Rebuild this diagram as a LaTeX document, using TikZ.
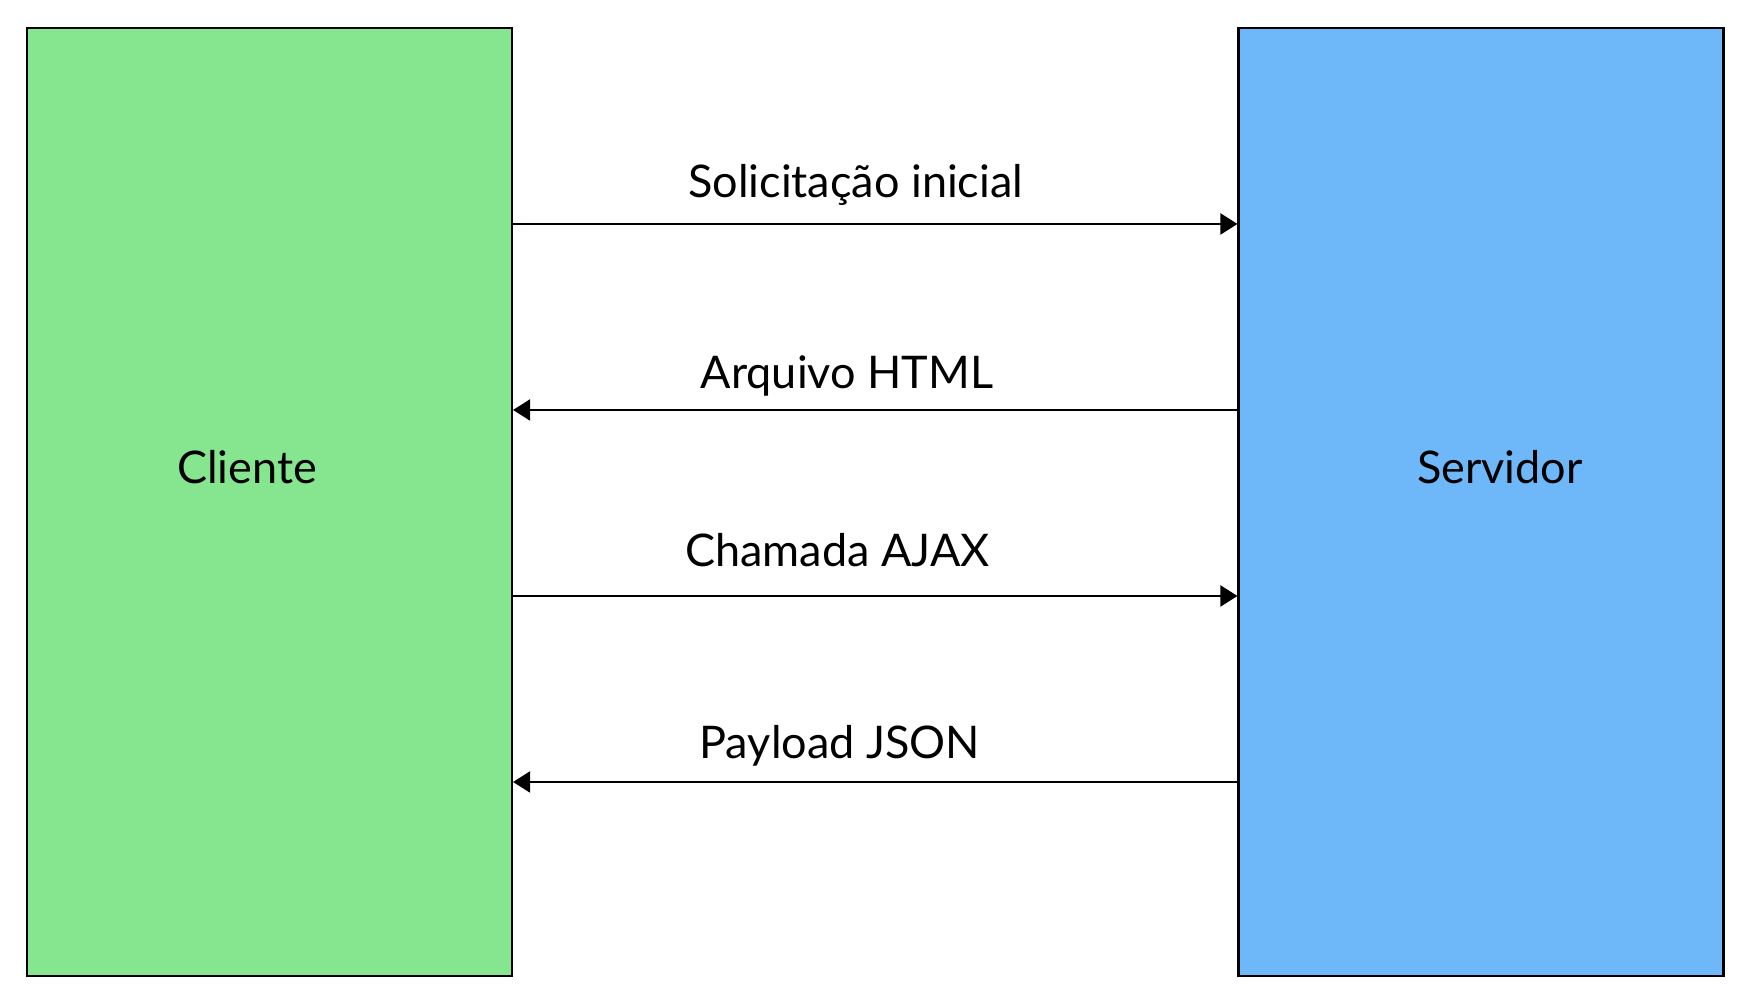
\documentclass[tikz,border=0pt]{standalone}
\usepackage{fontspec}
\setmainfont{Lato}
\usetikzlibrary{arrows.meta}
\definecolor{clientegreen}{RGB}{133,230,143}
\definecolor{servidorblue}{RGB}{110,184,249}
\begin{document}
\begin{tikzpicture}[line width=0.6pt, font=\fontsize{12.8}{15}\selectfont]
\tikzstyle{caixa}=[draw, rectangle, inner sep=0pt, minimum width=4.85cm, minimum height=9.48cm];
\tikzstyle{seta}=[-{Triangle[length=1.7mm,width=2.1mm]}];
\tikzstyle{rotulo}=[anchor=base, inner sep=0pt];
\useasboundingbox (0,0) rectangle (17.55,10.03);
\node [caixa, fill=clientegreen] (cliente) at (2.695,5.01) {};
\node [caixa, fill=servidorblue] (servidor) at (14.81,5.01) {};
\node [rotulo] (clientetxt) at (2.47,5.19) {Cliente};
\node [rotulo] (servidortxt) at (15.00,5.19) {Servidor};
% heights of the messages
\coordinate (m1) at (0,7.79);
\coordinate (m2) at (0,5.93);
\coordinate (m3) at (0,4.07);
\coordinate (m4) at (0,2.21);
\draw [seta] (cliente.east |- m1) -- (servidor.west |- m1)
  node [rotulo, pos=0.473, yshift=0.26cm] (msg1) {Solicitação inicial};
\draw [seta] (servidor.west |- m2) -- (cliente.east |- m2)
  node [rotulo, pos=0.539, yshift=0.21cm] (msg2) {Arquivo HTML};
\draw [seta] (cliente.east |- m3) -- (servidor.west |- m3)
  node [rotulo, pos=0.448, yshift=0.29cm] (msg3) {Chamada AJAX};
\draw [seta] (servidor.west |- m4) -- (cliente.east |- m4)
  node [rotulo, pos=0.549, yshift=0.23cm] (msg4) {Payload JSON};
\end{tikzpicture}
\end{document}
